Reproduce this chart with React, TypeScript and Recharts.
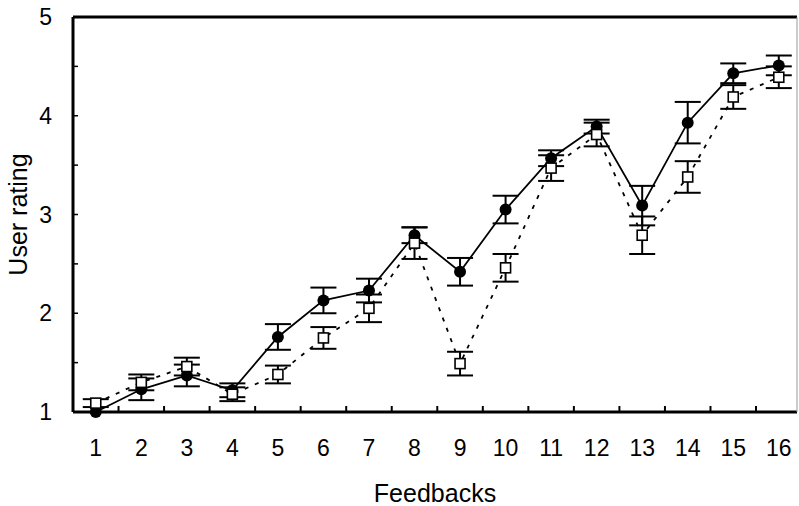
import * as React from "react";
import { LineChart, Line, XAxis, YAxis, ErrorBar } from "recharts";

// feedback index along the x axis
const feedbacks = [1, 2, 3, 4, 5, 6, 7, 8, 9, 10, 11, 12, 13, 14, 15, 16];

// filled circles, solid line
const filledMean = [1.0, 1.23, 1.37, 1.22, 1.76, 2.13, 2.23, 2.79, 2.42, 3.05, 3.57, 3.89, 3.09, 3.93, 4.43, 4.51];
const filledErr = [0, 0.11, 0.11, 0.07, 0.13, 0.13, 0.12, 0.08, 0.14, 0.14, 0.08, 0.07, 0.2, 0.21, 0.1, 0.1];

// open squares, dashed line
const openMean = [1.09, 1.3, 1.46, 1.18, 1.38, 1.75, 2.05, 2.71, 1.49, 2.46, 3.47, 3.81, 2.79, 3.38, 4.19, 4.39];
const openErr = [0.04, 0.08, 0.09, 0.07, 0.09, 0.11, 0.14, 0.16, 0.12, 0.14, 0.13, 0.12, 0.19, 0.16, 0.12, 0.11];

const yTicks = [1, 1.5, 2, 2.5, 3, 3.5, 4, 4.5, 5];
const xBoundaryTicks = [1.5, 2.5, 3.5, 4.5, 5.5, 6.5, 7.5, 8.5, 9.5, 10.5, 11.5, 12.5, 13.5, 14.5, 15.5];

const data = feedbacks.map((x, i) => ({
    x,
    filled: filledMean[i],
    filledErr: filledErr[i],
    open: openMean[i],
    openErr: openErr[i],
}));

const xDomain = [0.5, 16.4];
const font = "'Liberation Sans', Arial, sans-serif";
const tickStyle = { fontSize: 23, fill: "#000", fontFamily: font };
const titleStyle = { fontSize: 25, fill: "#000", fontFamily: font };

function SquareDot(props: any) {
    const { cx, cy, index } = props;
    if (cx == null || cy == null) return <g key={`sq-${index}`} />;
    return (
        <rect
            key={`sq-${index}`}
            x={cx - 5}
            y={cy - 5}
            width={10}
            height={10}
            fill="#fff"
            stroke="#000"
            strokeWidth={1.6}
        />
    );
}

export default function App() {
    return (
        <div style={{ position: "absolute", left: 0, top: 0, background: "#fff", fontFamily: font }}>
            <LineChart width={799} height={506} data={data} margin={{ top: 16, right: 1, bottom: 0, left: 0 }}>
                {/* category labels (stacked below the tick-mark axis) */}
                <XAxis
                    xAxisId="b"
                    type="number"
                    dataKey="x"
                    domain={xDomain}
                    ticks={feedbacks}
                    height={93}
                    tickSize={0}
                    tickMargin={27}
                    axisLine={false}
                    tickLine={false}
                    tick={tickStyle}
                    label={{
                        value: "Feedbacks",
                        position: "insideBottom",
                        offset: 4,
                        style: titleStyle,
                    }}
                />
                {/* boundary tick marks + thick bottom axis line */}
                <XAxis
                    xAxisId="a"
                    type="number"
                    dataKey="x"
                    domain={xDomain}
                    ticks={xBoundaryTicks}
                    height={1}
                    tickSize={-6}
                    tickFormatter={() => ""}
                    axisLine={{ stroke: "#000", strokeWidth: 3 }}
                    tickLine={{ stroke: "#000", strokeWidth: 2 }}
                />
                {/* top frame */}
                <XAxis
                    xAxisId="top"
                    orientation="top"
                    type="number"
                    dataKey="x"
                    domain={xDomain}
                    height={1}
                    tick={false}
                    tickLine={false}
                    axisLine={{ stroke: "#000", strokeWidth: 3 }}
                />
                <YAxis
                    type="number"
                    domain={[1, 5]}
                    ticks={yTicks}
                    width={73}
                    tickSize={-5}
                    tickMargin={26}
                    tickFormatter={(v: number) => (Number.isInteger(v) ? String(v) : "")}
                    axisLine={{ stroke: "#000", strokeWidth: 3 }}
                    tickLine={{ stroke: "#000", strokeWidth: 1.5 }}
                    tick={tickStyle}
                    label={{
                        value: "User rating",
                        angle: -90,
                        position: "insideLeft",
                        offset: 18,
                        style: { ...titleStyle, textAnchor: "middle" },
                    }}
                />
                {/* right frame */}
                <YAxis
                    yAxisId="r"
                    orientation="right"
                    type="number"
                    domain={[1, 5]}
                    width={1}
                    tick={false}
                    tickLine={false}
                    axisLine={{ stroke: "#999", strokeWidth: 1 }}
                />
                <Line
                    xAxisId="b"
                    type="linear"
                    dataKey="filled"
                    stroke="#000"
                    strokeWidth={1.8}
                    dot={{ r: 6, fill: "#000", stroke: "#000", strokeWidth: 0 }}
                    activeDot={false}
                    isAnimationActive={false}
                >
                    <ErrorBar dataKey="filledErr" width={13} stroke="#000" strokeWidth={2} direction="y" />
                </Line>
                <Line
                    xAxisId="b"
                    type="linear"
                    dataKey="open"
                    stroke="#000"
                    strokeWidth={1.8}
                    strokeDasharray="4 7"
                    dot={SquareDot}
                    activeDot={false}
                    isAnimationActive={false}
                >
                    <ErrorBar dataKey="openErr" width={13} stroke="#000" strokeWidth={2} direction="y" />
                </Line>
            </LineChart>
        </div>
    );
}
